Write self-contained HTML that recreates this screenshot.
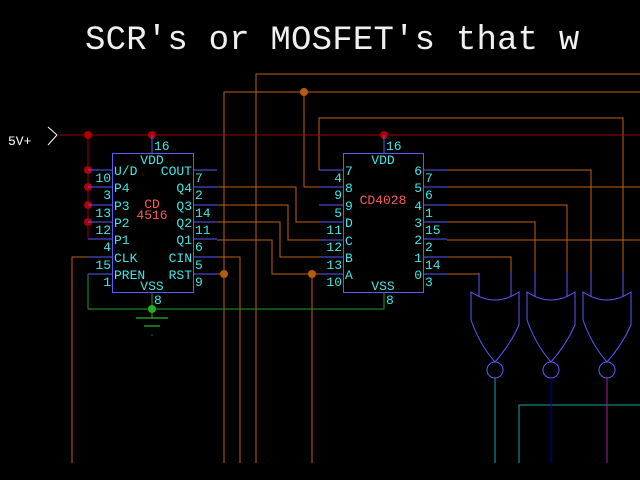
<!DOCTYPE html>
<html><head><meta charset="utf-8"><style>
html,body{margin:0;padding:0;background:#000;}
svg{display:block;}
text{font-family:"Liberation Mono",monospace;}
.c{fill:#3fe8e8;font-size:13px;}
.r{fill:#ff5a5a;font-size:13px;}
</style></head><body>
<svg width="640" height="480" viewBox="0 0 640 480" xmlns="http://www.w3.org/2000/svg">
<rect width="640" height="480" fill="#000"/>
<text x="85" y="49" fill="#f0f0f0" font-size="34" letter-spacing="0.2">SCR's or MOSFET's that w</text>
<text x="8" y="145" fill="#fff" font-size="13">5V+</text>
<polyline points="48,127 57,135 48,145" fill="none" stroke="#fff" stroke-width="1"/>

<g fill="none" stroke="#c06010" stroke-width="1">
<polyline points="256,463 256,74 640,74"/>
<polyline points="224,463 224,92 640,92"/>
<polyline points="304,92 304,187 319,187"/>
<polyline points="319,170 319,118 623,118 623,273"/>
<polyline points="72,463 72,257 88,257"/>
<polyline points="217,187 296,187 296,222 319,222"/>
<polyline points="217,205 288,205 288,240 319,240"/>
<polyline points="217,222 280,222 280,257 319,257"/>
<polyline points="217,240 272,240 272,274 319,274"/>
<polyline points="217,257 240,257 240,463"/>
<line x1="217" y1="274" x2="224" y2="274"/>
<line x1="312" y1="274" x2="312" y2="463"/>
<polyline points="447,170 591,170 591,273"/>
<line x1="447" y1="187" x2="640" y2="187"/>
<polyline points="447,205 567,205 567,273"/>
<polyline points="447,222 535,222 535,273"/>
<line x1="447" y1="240" x2="640" y2="240"/>
<polyline points="447,257 511,257 511,273"/>
<polyline points="447,274 479,274 479,273"/>
</g>
<g fill="#b85a10">
<circle cx="304" cy="92" r="4"/><circle cx="224" cy="274" r="4"/><circle cx="312" cy="274" r="4"/>
</g>
<g stroke="#a00000" stroke-width="1" fill="none">
<line x1="57" y1="135" x2="640" y2="135"/>
<line x1="88" y1="135" x2="88" y2="239"/>
</g>
<g fill="#b00000">
<circle cx="88" cy="135" r="4"/><circle cx="152" cy="135" r="4"/><circle cx="384" cy="135" r="4"/>
<circle cx="88" cy="170" r="4"/><circle cx="88" cy="187" r="4"/><circle cx="88" cy="205" r="4"/><circle cx="88" cy="222" r="4"/>
</g>
<g stroke="#20a020" fill="none">
<polyline points="88,274 88,309 384,309 384,292"/>
<line x1="152" y1="292" x2="152" y2="318"/>
</g>
<g stroke="#30e030"><line x1="136" y1="318" x2="168" y2="318"/><line x1="144" y1="326" x2="160" y2="326"/></g>
<circle cx="152" cy="309" r="4" fill="#20b020"/>
<rect x="151.5" y="334.5" width="1" height="1" fill="#30e030"/>

<g stroke="#5a5aff" fill="none" stroke-width="1">
<rect x="112.5" y="153.5" width="81" height="139"/>
<line x1="152" y1="135" x2="152" y2="153"/>
<line x1="88" y1="170" x2="112" y2="170"/><line x1="88" y1="187" x2="112" y2="187"/><line x1="88" y1="205" x2="112" y2="205"/><line x1="88" y1="222" x2="112" y2="222"/><line x1="88" y1="239" x2="112" y2="239"/><line x1="88" y1="257" x2="112" y2="257"/><line x1="88" y1="274" x2="112" y2="274"/>
<line x1="193" y1="170" x2="217" y2="170"/><line x1="193" y1="187" x2="217" y2="187"/><line x1="193" y1="205" x2="217" y2="205"/><line x1="193" y1="222" x2="217" y2="222"/><line x1="193" y1="239" x2="217" y2="239"/><line x1="193" y1="257" x2="217" y2="257"/><line x1="193" y1="274" x2="217" y2="274"/>
<rect x="343.5" y="153.5" width="80" height="139"/>
<line x1="384" y1="135" x2="384" y2="153"/>
<line x1="319" y1="170" x2="343" y2="170"/><line x1="319" y1="187" x2="343" y2="187"/><line x1="319" y1="205" x2="343" y2="205"/><line x1="319" y1="222" x2="343" y2="222"/><line x1="319" y1="240" x2="343" y2="240"/><line x1="319" y1="257" x2="343" y2="257"/><line x1="319" y1="274" x2="343" y2="274"/>
<line x1="423" y1="170" x2="447" y2="170"/><line x1="423" y1="187" x2="447" y2="187"/><line x1="423" y1="205" x2="447" y2="205"/><line x1="423" y1="222" x2="447" y2="222"/><line x1="423" y1="239" x2="447" y2="239"/><line x1="423" y1="257" x2="447" y2="257"/><line x1="423" y1="274" x2="447" y2="274"/>
</g>

<g class="c">
<text x="152" y="164" text-anchor="middle">VDD</text>
<text x="152" y="290" text-anchor="middle">VSS</text>
<text x="154" y="150">16</text><text x="154" y="304">8</text>
<text x="114" y="175">U/D</text><text x="114" y="192">P4</text><text x="114" y="210">P3</text><text x="114" y="227">P2</text><text x="114" y="244">P1</text><text x="114" y="262">CLK</text><text x="114" y="279">PREN</text>
<g text-anchor="end">
<text x="111" y="182">10</text><text x="111" y="199">3</text><text x="111" y="217">13</text><text x="111" y="234">12</text><text x="111" y="251">4</text><text x="111" y="269">15</text><text x="111" y="286">1</text>
<text x="192" y="175">COUT</text><text x="192" y="192">Q4</text><text x="192" y="210">Q3</text><text x="192" y="227">Q2</text><text x="192" y="244">Q1</text><text x="192" y="262">CIN</text><text x="192" y="279">RST</text>
</g>
<text x="195" y="182">7</text><text x="195" y="199">2</text><text x="195" y="217">14</text><text x="195" y="234">11</text><text x="195" y="251">6</text><text x="195" y="269">5</text><text x="195" y="286">9</text>

<text x="383" y="164" text-anchor="middle">VDD</text>
<text x="383" y="290" text-anchor="middle">VSS</text>
<text x="386" y="150">16</text><text x="386" y="304">8</text>
<text x="345" y="175">7</text><text x="345" y="192">8</text><text x="345" y="210">9</text><text x="345" y="227">D</text><text x="345" y="245">C</text><text x="345" y="262">B</text><text x="345" y="279">A</text>
<g text-anchor="end">
<text x="342" y="182">4</text><text x="342" y="199">9</text><text x="342" y="217">5</text><text x="342" y="234">11</text><text x="342" y="251">12</text><text x="342" y="269">13</text><text x="342" y="286">10</text>
<text x="422" y="175">6</text><text x="422" y="192">5</text><text x="422" y="210">4</text><text x="422" y="227">3</text><text x="422" y="244">2</text><text x="422" y="262">1</text><text x="422" y="279">0</text>
</g>
<text x="425" y="182">7</text><text x="425" y="199">6</text><text x="425" y="217">1</text><text x="425" y="234">15</text><text x="425" y="251">2</text><text x="425" y="269">14</text><text x="425" y="286">3</text>
</g>
<g class="r" text-anchor="middle">
<text x="152" y="208">CD</text><text x="152" y="219">4516</text>
<text x="383" y="204">CD4028</text>
</g>

<g stroke="#5a5aff" fill="none" stroke-width="1">
<g id="g1">
<line x1="479" y1="273" x2="479" y2="297"/><line x1="511" y1="273" x2="511" y2="297"/>
<path d="M471,292 Q495,308 519,292 L519,325 Q510,345 495,362 Q480,345 471,320 Z"/>
<circle cx="495" cy="370" r="8"/>
</g>
<g transform="translate(56,0)">
<line x1="479" y1="273" x2="479" y2="297"/><line x1="511" y1="273" x2="511" y2="297"/>
<path d="M471,292 Q495,308 519,292 L519,325 Q510,345 495,362 Q480,345 471,320 Z"/>
<circle cx="495" cy="370" r="8"/>
</g>
<g transform="translate(112,0)">
<line x1="479" y1="273" x2="479" y2="297"/><line x1="511" y1="273" x2="511" y2="297"/>
<path d="M471,292 Q495,308 519,292 L519,325 Q510,345 495,362 Q480,345 471,320 Z"/>
<circle cx="495" cy="370" r="8"/>
</g>
</g>
<g fill="none" stroke-width="1">
<line x1="495" y1="378" x2="495" y2="463" stroke="#20a0a0"/>
<polyline points="519,463 519,405 640,405" stroke="#20a0a0"/>
<line x1="551" y1="378" x2="551" y2="463" stroke="#0000a0"/>
<line x1="607" y1="378" x2="607" y2="463" stroke="#a020a0"/>
</g>
</svg>
</body></html>
